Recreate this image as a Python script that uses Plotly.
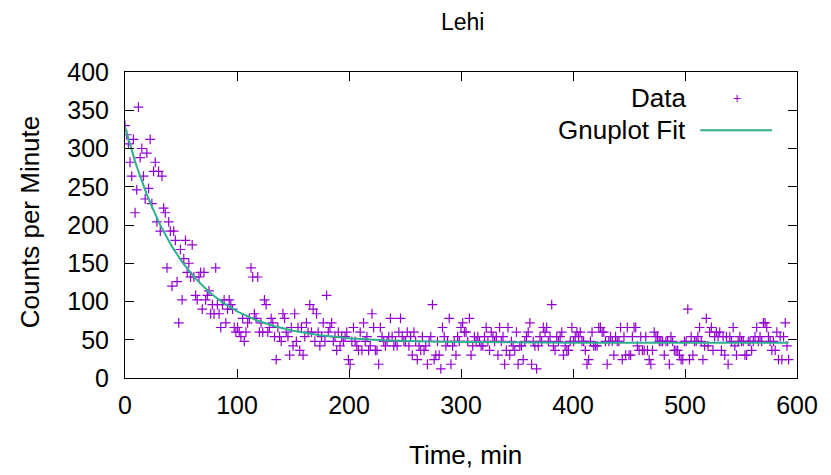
import math
import plotly.graph_objects as go

sample_step_min = 1.5
counts = [
    330, 318, 306, 282, 264, 312, 216, 246, 354, 288, 300, 264, 234, 294, 248, 312, 228, 270, 282, 204,
    270, 192, 264, 222, 216, 144, 204, 192, 120, 192, 180, 126, 72, 168, 102, 156, 180, 138, 150, 132,
    174, 132, 108, 102, 132, 138, 90, 138, 102, 108, 114, 84, 96, 84, 144, 96, 84, 66, 96, 102,
    72, 90, 102, 96, 90, 66, 60, 66, 60, 54, 78, 48, 60, 72, 78, 144, 132, 84, 78, 132,
    60, 72, 60, 102, 96, 60, 66, 78, 72, 54, 24, 66, 54, 48, 84, 78, 60, 54, 30, 66,
    42, 84, 48, 66, 36, 66, 30, 54, 72, 60, 96, 60, 90, 48, 84, 60, 42, 54, 72, 48,
    108, 60, 66, 72, 48, 54, 36, 60, 42, 54, 48, 54, 60, 24, 18, 48, 66, 48, 42, 36,
    60, 36, 72, 48, 54, 36, 42, 84, 66, 36, 36, 18, 66, 54, 48, 42, 48, 54, 78, 54,
    42, 48, 42, 60, 78, 54, 48, 48, 60, 42, 54, 30, 60, 48, 24, 42, 36, 54, 36, 42,
    18, 48, 54, 96, 24, 30, 48, 30, 12, 66, 54, 42, 48, 78, 18, 42, 48, 30, 54, 48,
    66, 72, 60, 60, 48, 78, 30, 42, 54, 48, 54, 48, 42, 42, 54, 66, 48, 36, 60, 54,
    48, 54, 30, 66, 48, 54, 18, 36, 66, 30, 48, 42, 36, 60, 18, 42, 42, 24, 48, 54,
    60, 72, 18, 48, 42, 12, 42, 54, 48, 66, 60, 66, 48, 54, 96, 42, 36, 54, 48, 54,
    60, 30, 42, 36, 36, 48, 66, 48, 54, 60, 54, 60, 48, 48, 36, 18, 24, 48, 60, 42,
    42, 42, 66, 66, 60, 60, 48, 18, 48, 54, 48, 30, 54, 48, 48, 66, 24, 54, 30, 66,
    30, 30, 54, 66, 66, 42, 36, 54, 36, 36, 54, 36, 24, 18, 36, 60, 54, 54, 48, 48,
    48, 30, 48, 48, 18, 54, 48, 36, 36, 36, 30, 24, 24, 48, 48, 90, 24, 54, 30, 48,
    48, 54, 66, 48, 24, 42, 78, 42, 60, 66, 36, 54, 60, 54, 60, 36, 54, 30, 54, 18,
    54, 48, 66, 42, 30, 48, 54, 48, 48, 30, 30, 48, 48, 36, 48, 54, 66, 48, 54, 48,
    72, 72, 66, 54, 48, 36, 48, 36, 60, 24, 54, 24, 54, 72, 42, 24,
]
minutes = [sample_step_min * i for i in range(len(counts))]

# Gnuplot fit: f(t) = c + a*exp(-t/tau)
fit_c = 46.0
fit_a = 282.0
fit_tau = 52.0
fit_vals = [fit_c + fit_a * math.exp(-t / fit_tau) for t in minutes]

x_ticks = [0, 100, 200, 300, 400, 500, 600]
y_ticks = [0, 50, 100, 150, 200, 250, 300, 350, 400]

data_color = "#9400d3"
fit_color = "#2fb08c"
font_family = "Liberation Sans"
tick_font = dict(family=font_family, size=25, color="black")
txt_font = dict(family=font_family, size=26, color="black")
title_font = dict(family=font_family, size=23, color="black")

fig = go.Figure()
fig.add_trace(go.Scatter(
    x=minutes, y=counts, mode="markers", name="Data",
    marker=dict(symbol="cross-thin", size=7, line=dict(width=1.2, color=data_color), color=data_color),
    showlegend=False,
))
fig.add_trace(go.Scatter(
    x=minutes, y=fit_vals, mode="lines", name="Gnuplot Fit",
    line=dict(color=fit_color, width=2), showlegend=False,
))

axis_common = dict(
    showgrid=False, zeroline=False, showline=True, linecolor="black", linewidth=1,
    mirror="ticks", ticks="inside", ticklen=9, tickcolor="black", tickwidth=1,
    tickfont=tick_font, automargin=False,
)
fig.update_xaxes(range=[0, 600], tickvals=x_ticks, ticktext=[str(v) for v in x_ticks],
                 ticklabelstandoff=5, **axis_common)
fig.update_yaxes(range=[0, 400], tickvals=y_ticks, ticktext=[str(v) for v in y_ticks],
                 ticklabelstandoff=10, **axis_common)

# title and axis titles
fig.add_annotation(xref="paper", yref="paper", x=0.5015, y=1.165, text="Lehi", showarrow=False,
                   xanchor="center", yanchor="middle", font=title_font)
fig.add_annotation(xref="paper", yref="paper", x=0.507, y=-0.252, text="Time, min", showarrow=False,
                   xanchor="center", yanchor="middle", font=txt_font)
fig.add_annotation(xref="paper", yref="paper", x=-0.141, y=0.51, text="Counts per Minute", showarrow=False,
                   xanchor="center", yanchor="middle", textangle=-90, font=txt_font)

# gnuplot-style key: text right-aligned, sample to the right
fig.add_annotation(xref="paper", yref="paper", x=0.838, y=0.915, text="Data", showarrow=False,
                   xanchor="right", yanchor="middle", font=txt_font)
fig.add_annotation(xref="paper", yref="paper", x=0.838, y=0.810, text="Gnuplot Fit", showarrow=False,
                   xanchor="right", yanchor="middle", font=txt_font)
fig.add_annotation(xref="paper", yref="paper", x=0.911, y=0.915, text="+", showarrow=False,
                   xanchor="center", yanchor="middle", font=dict(family=font_family, size=14, color=data_color))
fig.add_shape(type="line", xref="paper", yref="paper", x0=0.856, x1=0.963, y0=0.810, y1=0.810,
              line=dict(color=fit_color, width=2))

# the page body adds an 8px offset, so the figure is sized to fit inside it
fig.update_layout(
    width=823, height=467,
    margin=dict(l=117, r=34, t=64, b=97, autoexpand=False),
    paper_bgcolor="white", plot_bgcolor="white",
    font=dict(family=font_family),
)

fig.write_html("out.html")
